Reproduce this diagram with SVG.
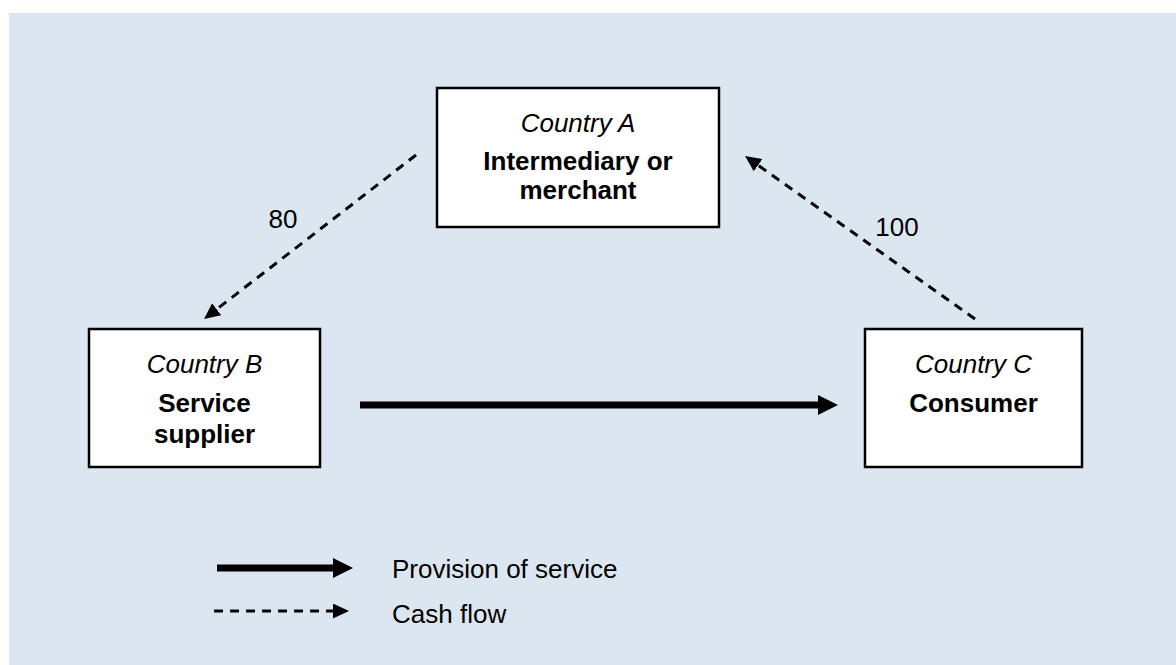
<svg xmlns="http://www.w3.org/2000/svg" width="1176" height="665" viewBox="0 0 1176 665">
<style>
.box{fill:#ffffff;stroke:#000000;stroke-width:2.5}
.it{font-family:"Liberation Sans",Arial,sans-serif;font-size:26px;font-style:italic;fill:#000;text-anchor:middle}
.bd{font-family:"Liberation Sans",Arial,sans-serif;font-size:26px;font-weight:bold;fill:#000;text-anchor:middle}
.tx{font-family:"Liberation Sans",Arial,sans-serif;font-size:26px;fill:#000}
.solid{stroke:#000;stroke-width:7;fill:none}
.dash{stroke:#000;stroke-width:3;stroke-dasharray:9 7;fill:none}
</style>
<defs>
<marker id="big" markerUnits="userSpaceOnUse" markerWidth="20" markerHeight="20" viewBox="0 -10 20 20" refX="0" refY="0" orient="auto">
<path d="M0,-10 L20,0 L0,10 Z" fill="#000"/>
</marker>
<marker id="small" markerUnits="userSpaceOnUse" markerWidth="16" markerHeight="15" viewBox="0 -7.5 16 15" refX="0" refY="0" orient="auto">
<path d="M0,-7.5 L16,0 L0,7.5 Z" fill="#000"/>
</marker>
</defs>
<rect x="9" y="13" width="1167" height="652" fill="#dce6f1"/>
<g id="connectors">
<line class="dash" x1="416" y1="155" x2="216.7" y2="309.2" marker-end="url(#small)"/>
<line class="dash" x1="975" y1="319" x2="758.1" y2="165.2" marker-end="url(#small)"/>
<line class="solid" x1="360" y1="405" x2="818" y2="405" marker-end="url(#big)"/>
<text class="tx" x="283" y="228" text-anchor="middle">80</text>
<text class="tx" x="897" y="236" text-anchor="middle">100</text>
</g>
<g id="nodeA">
<rect class="box" x="437" y="88" width="282" height="139"/>
<text class="it" x="578" y="132">Country A</text>
<text class="bd" x="578" y="170">Intermediary or</text>
<text class="bd" x="578" y="199">merchant</text>
</g>
<g id="nodeB">
<rect class="box" x="89" y="329" width="231" height="138"/>
<text class="it" x="204.5" y="373">Country B</text>
<text class="bd" x="204.5" y="412">Service</text>
<text class="bd" x="204.5" y="443">supplier</text>
</g>
<g id="nodeC">
<rect class="box" x="865" y="329" width="217" height="138"/>
<text class="it" x="973.5" y="373">Country C</text>
<text class="bd" x="973.5" y="412">Consumer</text>
</g>
<g id="legend">
<line class="solid" x1="217" y1="568" x2="333" y2="568" marker-end="url(#big)"/>
<text class="tx" x="392" y="578">Provision of service</text>
<line class="dash" x1="214" y1="611" x2="333" y2="611" marker-end="url(#small)"/>
<text class="tx" x="392" y="623">Cash flow</text>
</g>
</svg>
